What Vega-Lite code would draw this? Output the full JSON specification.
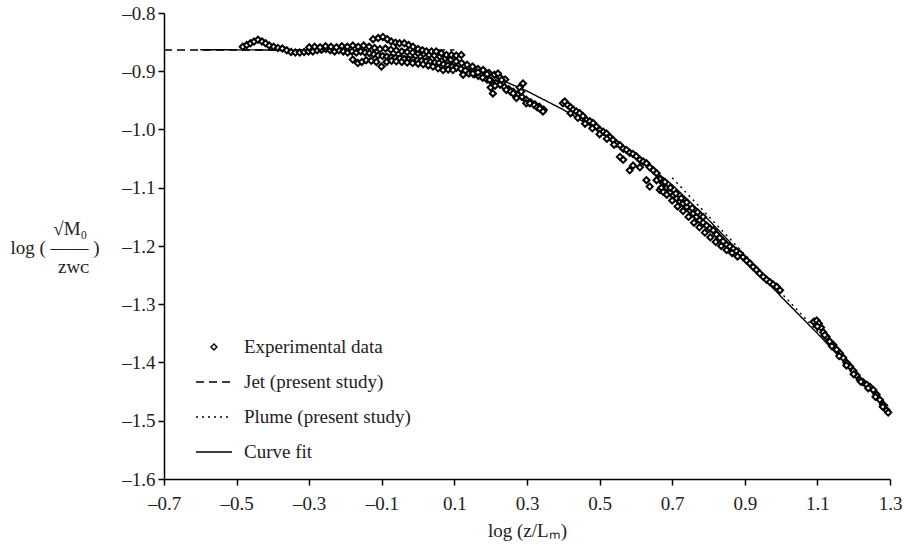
{
"$schema": "https://vega.github.io/schema/vega-lite/v6.json",
"width": 726, "height": 466,
"autosize": {"type": "none"},
"padding": {"left": 164, "top": 13, "right": 14, "bottom": 66},
"background": "white",
"config": {
  "view": {"stroke": null},
  "font": "Liberation Serif",
  "axis": {"domainColor": "black", "domainWidth": 1.5, "tickColor": "black", "tickWidth": 1.5, "tickSize": 6, "labelFont": "Liberation Serif", "labelFontSize": 19, "labelColor": "#222", "titleFont": "Liberation Serif", "titleFontSize": 19, "titleFontWeight": "normal", "titleColor": "#222", "grid": false, "labelFlush": false, "labelOverlap": false, "labelBound": false}
},
"datasets": {
  "lines": [
    {"series": "Jet (present study)", "x": -0.7, "y": -0.8635},
    {"series": "Jet (present study)", "x": 0.1, "y": -0.8635},
    {"series": "Plume (present study)", "x": 0.7, "y": -1.083},
    {"series": "Plume (present study)", "x": 1.3, "y": -1.478},
    {"series": "Curve fit", "x": -0.6, "y": -0.863},
    {"series": "Curve fit", "x": -0.4, "y": -0.8635},
    {"series": "Curve fit", "x": -0.2, "y": -0.866},
    {"series": "Curve fit", "x": -0.1, "y": -0.870},
    {"series": "Curve fit", "x": 0.0, "y": -0.877},
    {"series": "Curve fit", "x": 0.1, "y": -0.889},
    {"series": "Curve fit", "x": 0.2, "y": -0.907},
    {"series": "Curve fit", "x": 0.3, "y": -0.934},
    {"series": "Curve fit", "x": 0.4, "y": -0.966},
    {"series": "Curve fit", "x": 0.5, "y": -1.003},
    {"series": "Curve fit", "x": 0.6, "y": -1.045},
    {"series": "Curve fit", "x": 0.7, "y": -1.095},
    {"series": "Curve fit", "x": 0.8, "y": -1.155},
    {"series": "Curve fit", "x": 0.9, "y": -1.220},
    {"series": "Curve fit", "x": 1.0, "y": -1.287},
    {"series": "Curve fit", "x": 1.1, "y": -1.350},
    {"series": "Curve fit", "x": 1.2, "y": -1.416},
    {"series": "Curve fit", "x": 1.3, "y": -1.485}
  ],
  "points": [
    {"x":-0.483,"y":-0.858},{"x":-0.472,"y":-0.855},{"x":-0.462,"y":-0.852},{"x":-0.452,"y":-0.849},{"x":-0.441,"y":-0.846},{"x":-0.430,"y":-0.849},{"x":-0.420,"y":-0.852},{"x":-0.410,"y":-0.856},{"x":-0.398,"y":-0.858},{"x":-0.386,"y":-0.860},{"x":-0.374,"y":-0.861},{"x":-0.362,"y":-0.864},{"x":-0.350,"y":-0.867},{"x":-0.338,"y":-0.868},{"x":-0.326,"y":-0.868},{"x":-0.314,"y":-0.867},{"x":-0.302,"y":-0.866},{"x":-0.290,"y":-0.866},{"x":-0.278,"y":-0.864},{"x":-0.266,"y":-0.863},{"x":-0.254,"y":-0.862},{"x":-0.242,"y":-0.864},{"x":-0.230,"y":-0.866},{"x":-0.218,"y":-0.864},{"x":-0.206,"y":-0.866},{"x":-0.194,"y":-0.868},{"x":-0.182,"y":-0.866},{"x":-0.170,"y":-0.868},{"x":-0.158,"y":-0.866},{"x":-0.146,"y":-0.868},{"x":-0.134,"y":-0.869},{"x":-0.122,"y":-0.871},{"x":-0.110,"y":-0.873},{"x":-0.098,"y":-0.874},{"x":-0.086,"y":-0.875},{"x":-0.074,"y":-0.876},{"x":-0.062,"y":-0.877},{"x":-0.050,"y":-0.878},{"x":-0.038,"y":-0.879},{"x":-0.026,"y":-0.880},{"x":-0.014,"y":-0.880},{"x":-0.002,"y":-0.881},{"x":0.010,"y":-0.882},{"x":0.022,"y":-0.883},{"x":0.034,"y":-0.884},{"x":0.046,"y":-0.885},{"x":0.058,"y":-0.886},{"x":0.070,"y":-0.888},{"x":0.082,"y":-0.890},{"x":0.094,"y":-0.892},{"x":0.106,"y":-0.894},{"x":0.118,"y":-0.896},{"x":0.130,"y":-0.899},{"x":0.142,"y":-0.902},{"x":0.154,"y":-0.905},{"x":0.166,"y":-0.908},{"x":0.178,"y":-0.911},{"x":0.190,"y":-0.914},{"x":0.202,"y":-0.917},{"x":0.214,"y":-0.920},{"x":0.226,"y":-0.923},{"x":0.238,"y":-0.927},{"x":0.250,"y":-0.931},{"x":0.262,"y":-0.935},{"x":0.274,"y":-0.940},{"x":0.286,"y":-0.944},{"x":0.298,"y":-0.949},{"x":0.310,"y":-0.953},{"x":0.322,"y":-0.957},{"x":0.334,"y":-0.961},{"x":0.346,"y":-0.966},
    {"x":-0.300,"y":-0.859},{"x":-0.285,"y":-0.858},{"x":-0.270,"y":-0.859},{"x":-0.255,"y":-0.857},{"x":-0.240,"y":-0.858},{"x":-0.225,"y":-0.859},{"x":-0.210,"y":-0.857},{"x":-0.195,"y":-0.858},{"x":-0.180,"y":-0.856},{"x":-0.165,"y":-0.858},{"x":-0.150,"y":-0.856},{"x":-0.135,"y":-0.858},{"x":-0.120,"y":-0.860},{"x":-0.105,"y":-0.862},{"x":-0.090,"y":-0.861},{"x":-0.075,"y":-0.863},{"x":-0.060,"y":-0.864},{"x":-0.045,"y":-0.866},{"x":-0.030,"y":-0.867},{"x":-0.015,"y":-0.868},{"x":0.000,"y":-0.869},{"x":0.015,"y":-0.870},{"x":0.030,"y":-0.872},{"x":0.045,"y":-0.873},{"x":0.060,"y":-0.875},{"x":0.075,"y":-0.878},{"x":0.090,"y":-0.880},{"x":0.105,"y":-0.883},{"x":0.120,"y":-0.886},{"x":0.135,"y":-0.889},{"x":0.150,"y":-0.892},{"x":0.165,"y":-0.896},{"x":0.180,"y":-0.899},{"x":0.195,"y":-0.903},{"x":0.210,"y":-0.906},{"x":0.225,"y":-0.910},{"x":0.240,"y":-0.914},
    {"x":-0.124,"y":-0.845},{"x":-0.110,"y":-0.843},{"x":-0.097,"y":-0.841},{"x":-0.085,"y":-0.845},{"x":-0.074,"y":-0.849},{"x":-0.062,"y":-0.851},{"x":-0.051,"y":-0.852},{"x":-0.038,"y":-0.852},{"x":-0.026,"y":-0.855},{"x":-0.014,"y":-0.858},{"x":0.000,"y":-0.862},{"x":0.012,"y":-0.864},{"x":0.023,"y":-0.866},{"x":0.037,"y":-0.866},{"x":0.050,"y":-0.866},{"x":0.064,"y":-0.869},{"x":0.078,"y":-0.872},{"x":0.092,"y":-0.872},{"x":0.105,"y":-0.873},{"x":0.119,"y":-0.872},
    {"x":-0.180,"y":-0.880},{"x":-0.166,"y":-0.886},{"x":-0.155,"y":-0.884},{"x":-0.143,"y":-0.881},{"x":-0.129,"y":-0.882},{"x":-0.115,"y":-0.884},{"x":-0.101,"y":-0.892},{"x":-0.087,"y":-0.884},{"x":-0.073,"y":-0.882},{"x":-0.060,"y":-0.883},{"x":-0.045,"y":-0.884},{"x":-0.030,"y":-0.885},{"x":-0.015,"y":-0.886},{"x":0.000,"y":-0.887},{"x":0.014,"y":-0.888},{"x":0.028,"y":-0.890},{"x":0.041,"y":-0.892},{"x":0.055,"y":-0.895},{"x":0.069,"y":-0.898},{"x":0.083,"y":-0.897},{"x":0.096,"y":-0.898},{"x":0.124,"y":-0.906},{"x":0.140,"y":-0.904},{"x":0.151,"y":-0.904},{"x":0.165,"y":-0.902},{"x":0.179,"y":-0.898},{"x":0.190,"y":-0.905},{"x":0.197,"y":-0.915},{"x":0.200,"y":-0.928},{"x":0.206,"y":-0.938},{"x":0.212,"y":-0.925},{"x":0.220,"y":-0.904},{"x":0.230,"y":-0.915},{"x":0.243,"y":-0.932},{"x":0.255,"y":-0.935},{"x":0.262,"y":-0.938},{"x":0.271,"y":-0.946},{"x":0.280,"y":-0.928},{"x":0.284,"y":-0.935},{"x":0.289,"y":-0.921},{"x":0.298,"y":-0.955},{"x":0.308,"y":-0.955},{"x":0.320,"y":-0.958},{"x":0.328,"y":-0.962},{"x":0.335,"y":-0.964},{"x":0.344,"y":-0.969},
    {"x":0.399,"y":-0.955},{"x":0.404,"y":-0.952},{"x":0.412,"y":-0.958},{"x":0.420,"y":-0.962},{"x":0.427,"y":-0.966},{"x":0.436,"y":-0.969},{"x":0.445,"y":-0.972},{"x":0.454,"y":-0.977},{"x":0.464,"y":-0.984},{"x":0.473,"y":-0.986},{"x":0.482,"y":-0.989},{"x":0.491,"y":-0.995},{"x":0.501,"y":-1.001},{"x":0.510,"y":-1.004},{"x":0.519,"y":-1.007},{"x":0.528,"y":-1.013},{"x":0.537,"y":-1.018},{"x":0.547,"y":-1.024},{"x":0.556,"y":-1.027},{"x":0.565,"y":-1.033},{"x":0.574,"y":-1.035},{"x":0.583,"y":-1.040},{"x":0.592,"y":-1.042},{"x":0.601,"y":-1.046},{"x":0.611,"y":-1.052},{"x":0.620,"y":-1.055},{"x":0.629,"y":-1.058},{"x":0.638,"y":-1.065},{"x":0.648,"y":-1.070},{"x":0.657,"y":-1.075},{"x":0.666,"y":-1.085},{"x":0.675,"y":-1.092},{"x":0.684,"y":-1.100},{"x":0.694,"y":-1.108},{"x":0.703,"y":-1.113},{"x":0.712,"y":-1.118},{"x":0.721,"y":-1.124},{"x":0.730,"y":-1.127},{"x":0.740,"y":-1.133},{"x":0.749,"y":-1.139},{"x":0.758,"y":-1.144},{"x":0.767,"y":-1.150},{"x":0.776,"y":-1.156},{"x":0.785,"y":-1.160},{"x":0.795,"y":-1.165},{"x":0.804,"y":-1.170},{"x":0.813,"y":-1.173},{"x":0.822,"y":-1.180},{"x":0.831,"y":-1.186},{"x":0.840,"y":-1.192},{"x":0.850,"y":-1.198},{"x":0.859,"y":-1.201},{"x":0.868,"y":-1.205},{"x":0.877,"y":-1.209},{"x":0.886,"y":-1.213},{"x":0.895,"y":-1.219},{"x":0.905,"y":-1.225},{"x":0.914,"y":-1.230},{"x":0.923,"y":-1.236},{"x":0.932,"y":-1.241},{"x":0.941,"y":-1.247},{"x":0.951,"y":-1.253},{"x":0.960,"y":-1.258},{"x":0.969,"y":-1.262},{"x":0.978,"y":-1.266},{"x":0.988,"y":-1.270},{"x":0.997,"y":-1.276},
    {"x":0.420,"y":-0.972},{"x":0.440,"y":-0.980},{"x":0.460,"y":-0.990},{"x":0.480,"y":-0.998},{"x":0.500,"y":-1.008},{"x":0.520,"y":-1.016},{"x":0.540,"y":-1.026},
    {"x":0.556,"y":-1.047},{"x":0.565,"y":-1.052},{"x":0.583,"y":-1.070},{"x":0.592,"y":-1.062},{"x":0.611,"y":-1.065},{"x":0.629,"y":-1.087},{"x":0.638,"y":-1.098},{"x":0.657,"y":-1.087},{"x":0.666,"y":-1.104},{"x":0.675,"y":-1.107},
    {"x":0.670,"y":-1.100},{"x":0.685,"y":-1.112},{"x":0.700,"y":-1.122},{"x":0.715,"y":-1.132},{"x":0.730,"y":-1.140},{"x":0.745,"y":-1.150},{"x":0.760,"y":-1.160},{"x":0.775,"y":-1.168},{"x":0.790,"y":-1.177},{"x":0.805,"y":-1.185},{"x":0.820,"y":-1.193},{"x":0.835,"y":-1.200},{"x":0.850,"y":-1.207},{"x":0.865,"y":-1.212},{"x":0.880,"y":-1.218},
    {"x":0.680,"y":-1.090},{"x":0.695,"y":-1.100},{"x":0.710,"y":-1.110},{"x":0.725,"y":-1.118},{"x":0.740,"y":-1.125},{"x":0.755,"y":-1.135},{"x":0.770,"y":-1.142},{"x":0.785,"y":-1.150},
    {"x":1.090,"y":-1.330},{"x":1.098,"y":-1.328},{"x":1.104,"y":-1.333},{"x":1.110,"y":-1.340},{"x":1.116,"y":-1.348},{"x":1.125,"y":-1.356},{"x":1.134,"y":-1.364},{"x":1.144,"y":-1.370},{"x":1.153,"y":-1.378},{"x":1.162,"y":-1.384},{"x":1.171,"y":-1.392},{"x":1.180,"y":-1.400},{"x":1.190,"y":-1.407},{"x":1.199,"y":-1.414},{"x":1.208,"y":-1.422},{"x":1.217,"y":-1.430},{"x":1.226,"y":-1.434},{"x":1.236,"y":-1.438},{"x":1.245,"y":-1.442},{"x":1.254,"y":-1.447},{"x":1.263,"y":-1.455},{"x":1.272,"y":-1.464},{"x":1.281,"y":-1.472},{"x":1.291,"y":-1.482},{"x":1.295,"y":-1.486},
    {"x":1.100,"y":-1.338},{"x":1.120,"y":-1.353},{"x":1.140,"y":-1.372},{"x":1.160,"y":-1.389},{"x":1.180,"y":-1.405},{"x":1.200,"y":-1.420},{"x":1.220,"y":-1.433},{"x":1.240,"y":-1.444},{"x":1.260,"y":-1.459},{"x":1.280,"y":-1.476}
  ]
},
"layer": [
  {
    "data": {"name": "lines"},
    "mark": {"type": "line", "color": "black", "strokeWidth": 1.4},
    "encoding": {
      "x": {"field": "x", "type": "quantitative", "scale": {"domain": [-0.7, 1.3], "nice": false, "zero": false},
        "axis": {"values": [-0.7,-0.5,-0.3,-0.1,0.1,0.3,0.5,0.7,0.9,1.1,1.3], "format": ".1f", "labelExpr": "replace(datum.label, '\u2212', '\u2013')", "labelPadding": 9, "title": "log (z/L\u2098)", "titlePadding": 8}},
      "y": {"field": "y", "type": "quantitative", "scale": {"domain": [-1.6, -0.8], "nice": false, "zero": false},
        "axis": {"values": [-1.6,-1.5,-1.4,-1.3,-1.2,-1.1,-1.0,-0.9,-0.8], "format": ".1f", "labelExpr": "replace(datum.label, '\u2212', '\u2013')", "labelPadding": 3,
          "title": ["\u200b\u00a0\u00a0\u00a0\u00a0\u00a0\u00a0\u00a0\u00a0\u00a0\u221aM\u2080", "log (\u00a0\u2014\u2014\u00a0)", "\u200b\u00a0\u00a0\u00a0\u00a0\u00a0\u00a0\u00a0\u00a0\u00a0\u00a0zw\u1d04"],
          "titleAngle": 0, "titleAlign": "left", "titleBaseline": "middle", "titleX": -154, "titleY": 215, "titleLineHeight": 19}},
      "detail": {"field": "series"},
      "strokeDash": {"field": "series", "type": "nominal",
        "scale": {"domain": ["Experimental data", "Jet (present study)", "Plume (present study)", "Curve fit"], "range": [[1,0],[8,5],[2,4],[1,0]]},
        "legend": {"title": null, "orient": "none", "legendX": 31, "legendY": 319, "labelFont": "Liberation Serif", "labelFontSize": 19, "labelColor": "#222", "labelOffset": 11, "labelLimit": 400, "rowPadding": 5, "clipHeight": 30, "symbolStrokeColor": "black", "symbolStrokeWidth": 1.4, "symbolOpacity": 1,
          "encode": {"symbols": {"update": {"size": {"signal": "datum.value === 'Experimental data' ? 36 : 1296"}, "stroke": {"value": "black"}, "fill": {"value": "white"}, "opacity": {"value": 1}}}}}
      }
    }
  },
  {
    "data": {"name": "points"},
    "mark": {"type": "point", "fill": "white", "stroke": "black", "strokeWidth": 2, "size": 38, "opacity": 1},
    "encoding": {
      "x": {"field": "x", "type": "quantitative"},
      "y": {"field": "y", "type": "quantitative"},
      "shape": {"datum": "Experimental data", "type": "nominal",
        "scale": {"domain": ["Experimental data", "Jet (present study)", "Plume (present study)", "Curve fit"], "range": ["diamond", "stroke", "stroke", "stroke"]},
        "legend": {"title": null, "orient": "none", "legendX": 31, "legendY": 319, "labelFont": "Liberation Serif", "labelFontSize": 19, "labelColor": "#222", "labelOffset": 11, "labelLimit": 400, "rowPadding": 5, "clipHeight": 30, "symbolStrokeColor": "black", "symbolStrokeWidth": 1.4, "symbolOpacity": 1,
          "encode": {"symbols": {"update": {"size": {"signal": "datum.value === 'Experimental data' ? 36 : 1296"}, "stroke": {"value": "black"}, "fill": {"value": "white"}, "opacity": {"value": 1}}}}}
      }
    }
  }
]
}
